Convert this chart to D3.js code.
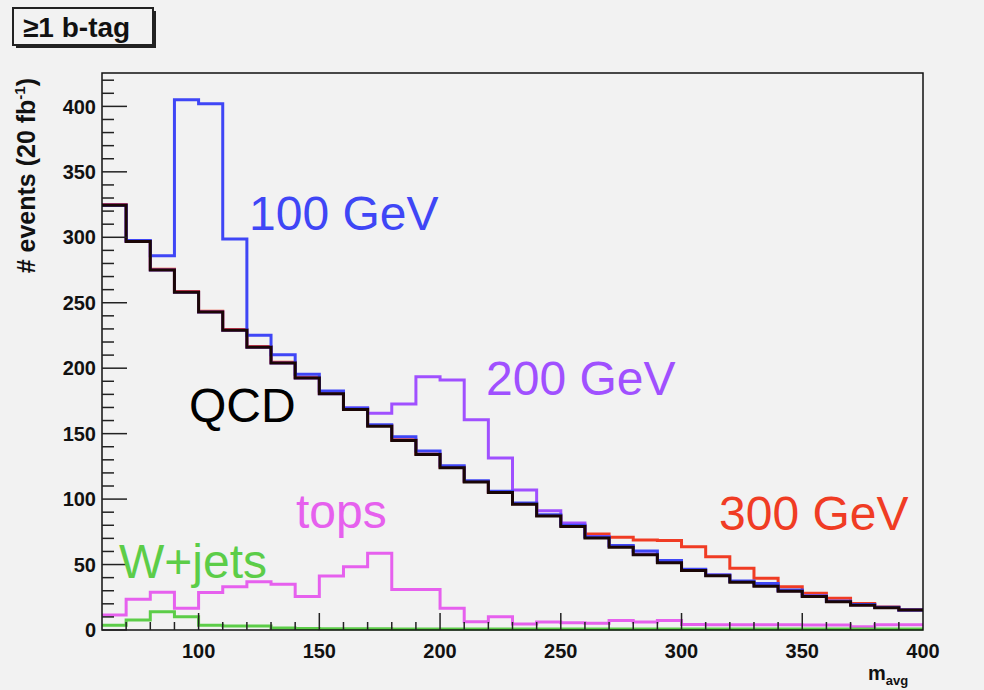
<!DOCTYPE html>
<html><head><meta charset="utf-8">
<script src="https://cdn.jsdelivr.net/npm/d3@7"></script>
<style>
html,body{margin:0;padding:0;background:#f2f2f2;}
svg{display:block;}
text{font-family:"Liberation Sans",Arial,Helvetica,sans-serif;}
</style></head>
<body>
<svg id="chart" width="984" height="690"></svg>
<script>
// ---- data ----
const binEdges = [60,70,80,90,100,110,120,130,140,150,160,170,180,190,200,210,220,230,240,250,260,270,280,290,300,310,320,330,340,350,360,370,380,390];
const binEnd = 400;
const qcd    = [324.5,296.7,275,258,243,229,216,204,192.5,180.5,168.5,155.7,144.8,134,124,113,105,96,87,79,70.3,63.3,57.4,51.4,45.5,41.5,36.5,33.5,29.6,25.6,21.6,19,17,15.3];
const sig100 = [324.5,297.5,285.8,405,402,298.7,225.2,210.3,195.4,182.5,169.6,156.7,147.7,136.8,125.5,114,106,97,88,80,71,64.5,60.4,53,46.5,42,37.5,35.5,30.5,26,22,19.5,17.3,15.3];
const sig200 = [324.5,296.7,275,258,243,229,216,204,192.5,180.5,169.6,165.6,172.6,193.4,191,160.6,131.4,107,91.1,81.7,71.5,64,58,52,46,42,37,34,30,26,22,19.3,17.2,15.3];
const sig300 = [325,297.2,275.5,258.5,243.5,229.5,216.5,204.5,193,181,169,156.2,145.3,134.5,124.5,113.5,105.5,96.5,87.5,80,73.3,70.8,68.8,68.3,63.6,56,47.1,39.5,33,28,24.2,20.3,17.6,15.5];
const tops   = [11.5,23.4,28.8,16.7,28.6,33,36.9,34.9,25.5,41.3,48.4,58.6,31,31,16.7,6.3,10.2,4.5,6.2,5.5,5.2,7.2,6.2,7.2,4.2,4,4,4,4,3.8,3.8,2.5,4,4];
const wjets  = [3.7,7.7,14,10.2,3.7,3,3,1.5,1.2,1,1,1,0.8,0.8,0.8,0.8,0.8,0.8,0.8,0.8,0.8,0.8,0.8,0.8,0.8,0.8,0.8,0.8,0.8,0.8,0.8,0.8,0.8,0.8];
const yTicks = [0,50,100,150,200,250,300,350,400];
const xTicks = [100,150,200,250,300,350,400];

const series = [
  {name:"tops",    vals:tops,   color:"#e660ee"},
  {name:"W+jets",  vals:wjets,  color:"#5ccd48"},
  {name:"300 GeV", vals:sig300, color:"#f03c24"},
  {name:"200 GeV", vals:sig200, color:"#a050ff"},
  {name:"100 GeV", vals:sig100, color:"#3f46f6"},
  {name:"QCD",     vals:qcd,    color:"#1a0606"}
];
const labels = [
  {text:"100 GeV", x:249, y:230, color:"#3f46f6"},
  {text:"200 GeV", x:486, y:395, color:"#a050ff"},
  {text:"300 GeV", x:719, y:530, color:"#f03c24"},
  {text:"QCD",     x:189, y:422, color:"#000000"},
  {text:"tops",    x:296, y:528, color:"#e660ee"},
  {text:"W+jets",  x:119, y:578, color:"#5ccd48"}
];

// ---- layout ----
const L=102, R=923, T=73, B=630;
const svg = d3.select("#chart");
const x = d3.scaleLinear().domain([60,400]).range([L,R]);
const y = d3.scaleLinear().domain([0,425.5]).range([B,T]);

svg.append("rect").attr("width",984).attr("height",690).attr("fill","#f2f2f2");

// histograms
const line = d3.line().x(d=>x(d[0])).y(d=>y(d[1])).curve(d3.curveStepAfter);
series.forEach(s=>{
  const pts = binEdges.map((e,i)=>[e,s.vals[i]]);
  pts.push([binEnd, s.vals[s.vals.length-1]]);
  svg.append("path").attr("d",line(pts)).attr("fill","none")
    .attr("stroke",s.color).attr("stroke-width",3).attr("stroke-linejoin","miter");
});

// frame
svg.append("rect").attr("x",L).attr("y",T).attr("width",R-L).attr("height",B-T)
  .attr("fill","none").attr("stroke","#111").attr("stroke-width",1.5);

// y axis ticks
const yMinor = d3.range(0,426,10);
const yAx = svg.append("g");
yMinor.forEach(v=>{
  const major = v%50===0;
  yAx.append("line").attr("x1",L).attr("x2",L+(major?25:12))
    .attr("y1",y(v)).attr("y2",y(v)).attr("stroke","#222").attr("stroke-width",1.5);
});
yTicks.forEach(v=>{
  yAx.append("text").attr("x",L-6).attr("y",y(v)).attr("dy","0.36em")
    .attr("text-anchor","end").attr("font-size",20).attr("font-weight","bold")
    .attr("fill","#111").text(v);
});
// x axis ticks
const xMinor = d3.range(70,400,10);
const xAx = svg.append("g");
xMinor.forEach(v=>{
  const major = v%50===0;
  xAx.append("line").attr("x1",x(v)).attr("x2",x(v))
    .attr("y1",B).attr("y2",B-(major?17:8)).attr("stroke","#222").attr("stroke-width",1.5);
});
xTicks.forEach(v=>{
  xAx.append("text").attr("x",x(v)).attr("y",658)
    .attr("text-anchor","middle").attr("font-size",20).attr("font-weight","bold")
    .attr("fill","#111").text(v);
});

// x axis title m_avg
const xt = svg.append("text").attr("x",868).attr("y",680).attr("font-size",20)
  .attr("font-weight","bold").attr("fill","#111");
xt.append("tspan").text("m");
xt.append("tspan").attr("font-size",13).attr("dy",5).text("avg");

// y axis title
const yt = svg.append("text").attr("transform","translate(35,78) rotate(-90)")
  .attr("text-anchor","end").attr("font-size",25).attr("font-weight","bold").attr("fill","#111");
yt.append("tspan").text("# events (20 fb");
yt.append("tspan").attr("font-size",15).attr("dy",-10).text("-1");
yt.append("tspan").attr("dy",10).text(")");

// series labels
labels.forEach(l=>{
  svg.append("text").attr("x",l.x).attr("y",l.y).attr("font-size",48)
    .attr("fill",l.color).text(l.text);
});

// b-tag box with shadow
svg.append("rect").attr("x",16).attr("y",11).attr("width",140).attr("height",37).attr("fill","#222");
svg.append("rect").attr("x",13).attr("y",8).attr("width",140).attr("height",37)
  .attr("fill","#f2f2f2").attr("stroke","#222").attr("stroke-width",2);
svg.append("text").attr("x",23).attr("y",37).attr("font-size",28).attr("font-weight","bold")
  .attr("fill","#111").text("\u22651 b-tag");
</script>
</body></html>
